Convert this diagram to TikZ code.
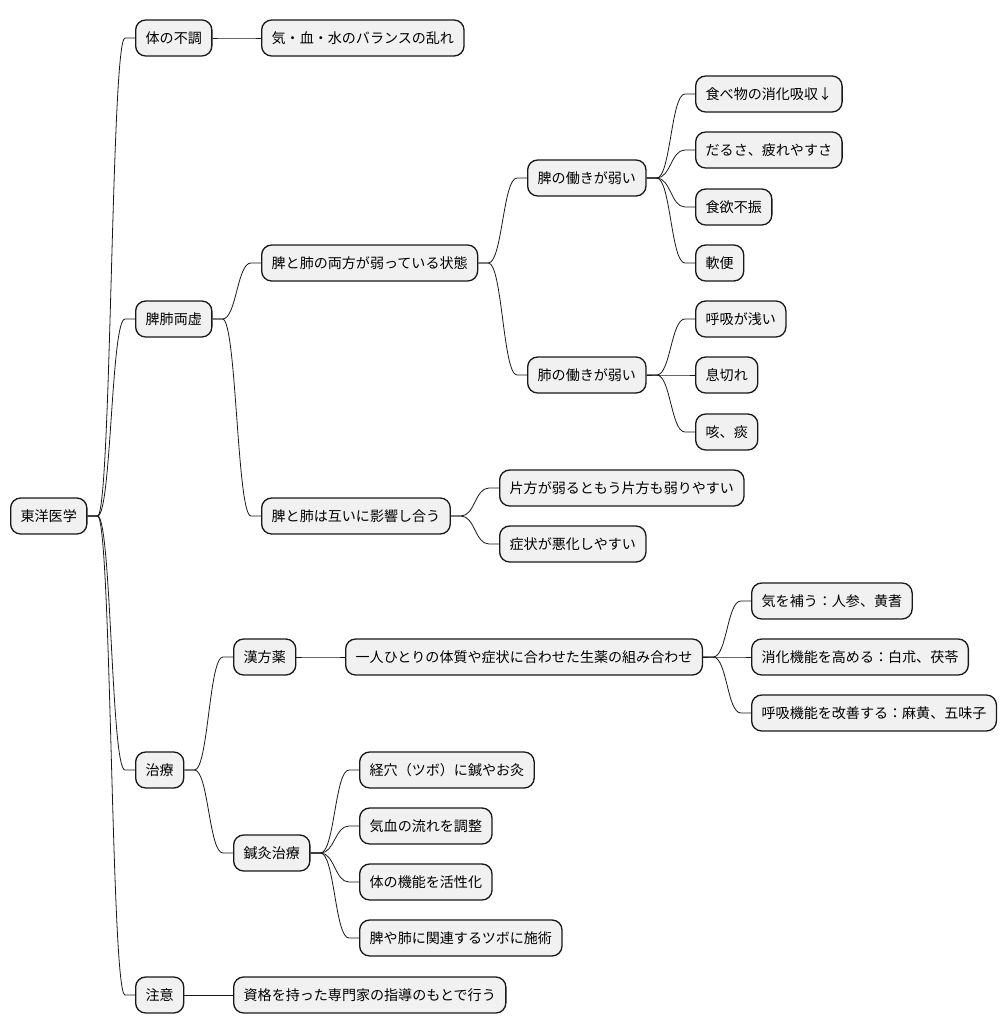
\documentclass[tikz,border=0pt]{standalone}
\usepackage{fontspec}
\setmainfont{Noto Sans CJK JP}
\usetikzlibrary{calc}
\definecolor{boxfill}{HTML}{F1F1F1}
\definecolor{boxline}{HTML}{181818}

\begin{document}
\begin{tikzpicture}[
    x=1pt, y=-1pt,
    font=\fontsize{14.05}{16}\selectfont,
    topic/.style={draw=boxline, fill=boxfill, line width=1.3pt, rounded corners=10pt, anchor=west, minimum height=36pt, inner xsep=10pt, inner ysep=0pt},
    branch/.style={draw=boxline, line width=0.8pt, to path={-- ++(10pt,0) .. controls +(14pt,0) and +(-14pt,0) .. ([xshift=-10pt]\tikztotarget) -- (\tikztotarget)}}
]
\useasboundingbox (0,0) rectangle (1006,1034);

% root and first level
\node[topic] (root) at (10,516) {東洋医学};
\node[topic] (fuchou) at (135,38) {体の不調};
\node[topic] (hihai) at (135,319) {脾肺両虚};
\node[topic] (chiryou) at (135,770) {治療};
\node[topic] (chui) at (135,995) {注意};

% 体の不調
\node[topic] (balance) at (261,38) {気・血・水のバランスの乱れ};

% 脾肺両虚
\node[topic] (ryouhou) at (261,263) {脾と肺の両方が弱っている状態};
\node[topic] (hi) at (527,178) {脾の働きが弱い};
\node[topic] (shouka) at (695,94) {食べ物の消化吸収↓};
\node[topic] (darusa) at (695,150) {だるさ、疲れやすさ};
\node[topic] (shokuyoku) at (695,207) {食欲不振};
\node[topic] (nanben) at (695,263) {軟便};
\node[topic] (hai) at (527,375) {肺の働きが弱い};
\node[topic] (kokyuu) at (695,319) {呼吸が浅い};
\node[topic] (ikigire) at (695,375) {息切れ};
\node[topic] (seki) at (695,432) {咳、痰};
\node[topic] (eikyou) at (261,516) {脾と肺は互いに影響し合う};
\node[topic] (katahou) at (499,488) {片方が弱るともう片方も弱りやすい};
\node[topic] (akka) at (499,544) {症状が悪化しやすい};

% 治療
\node[topic] (kampo) at (233,657) {漢方薬};
\node[topic] (kumiawase) at (345,657) {一人ひとりの体質や症状に合わせた生薬の組み合わせ};
\node[topic] (ki) at (751,601) {気を補う：人参、黄耆};
\node[topic] (shoukakinou) at (751,657) {消化機能を高める：白朮、茯苓};
\node[topic] (kokyuukinou) at (751,713) {呼吸機能を改善する：麻黄、五味子};
\node[topic] (shinkyu) at (233,853) {鍼灸治療};
\node[topic] (keiketsu) at (359,770) {経穴（ツボ）に鍼やお灸};
\node[topic] (kiketsu) at (359,826) {気血の流れを調整};
\node[topic] (kassei) at (359,882) {体の機能を活性化};
\node[topic] (sejutsu) at (359,938) {脾や肺に関連するツボに施術};

% 注意
\node[topic] (shikaku) at (233,995) {資格を持った専門家の指導のもとで行う};

\draw[branch] (root.east) to (fuchou.west);
\draw[branch] (root.east) to (hihai.west);
\draw[branch] (root.east) to (chiryou.west);
\draw[branch] (root.east) to (chui.west);
\draw[branch] (fuchou.east) to (balance.west);
\draw[branch] (hihai.east) to (ryouhou.west);
\draw[branch] (hihai.east) to (eikyou.west);
\draw[branch] (ryouhou.east) to (hi.west);
\draw[branch] (ryouhou.east) to (hai.west);
\draw[branch] (hi.east) to (shouka.west);
\draw[branch] (hi.east) to (darusa.west);
\draw[branch] (hi.east) to (shokuyoku.west);
\draw[branch] (hi.east) to (nanben.west);
\draw[branch] (hai.east) to (kokyuu.west);
\draw[branch] (hai.east) to (ikigire.west);
\draw[branch] (hai.east) to (seki.west);
\draw[branch] (eikyou.east) to (katahou.west);
\draw[branch] (eikyou.east) to (akka.west);
\draw[branch] (chiryou.east) to (kampo.west);
\draw[branch] (chiryou.east) to (shinkyu.west);
\draw[branch] (kampo.east) to (kumiawase.west);
\draw[branch] (kumiawase.east) to (ki.west);
\draw[branch] (kumiawase.east) to (shoukakinou.west);
\draw[branch] (kumiawase.east) to (kokyuukinou.west);
\draw[branch] (shinkyu.east) to (keiketsu.west);
\draw[branch] (shinkyu.east) to (kiketsu.west);
\draw[branch] (shinkyu.east) to (kassei.west);
\draw[branch] (shinkyu.east) to (sejutsu.west);
\draw[branch] (chui.east) to (shikaku.west);
\end{tikzpicture}
\end{document}
